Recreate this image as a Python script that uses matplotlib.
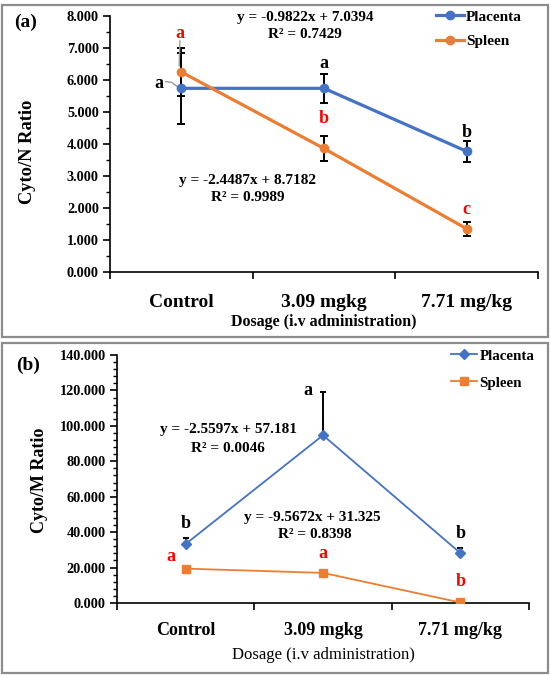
import matplotlib
matplotlib.use("Agg")
import matplotlib.pyplot as plt
from matplotlib.patches import Rectangle
from matplotlib.ticker import MultipleLocator, FixedLocator, NullFormatter

plt.rcParams["font.family"] = ["Liberation Serif", "DejaVu Serif"]
plt.rcParams["font.weight"] = "bold"

BLUE, ORANGE, RED = "#4472C4", "#ED7D31", "#FF0000"

doses = ["Control", "3.09 mgkg", "7.71 mg/kg"]
xpos = [1, 2, 3]

# panel (a) Cyto/N ratio
placenta_n = [5.74, 5.74, 3.77]
placenta_n_err = [1.10, 0.45, 0.33]
spleen_n = [6.25, 3.86, 1.35]
spleen_n_err = [0.74, 0.40, 0.22]

# panel (b) Cyto/M ratio (only upper error shown)
placenta_m = [33.3, 94.7, 28.2]
placenta_m_err = [3.5, 24.5, 3.0]
spleen_m = [19.4, 17.0, 0.3]

# significance letters: (x, y, letter, colour)
letters_a = [(0.99, 7.45, "a", RED), (0.84, 5.9, "a", "black"),
             (2.0, 6.53, "a", "black"), (2.0, 4.81, "b", RED),
             (3.0, 4.35, "b", "black"), (3.0, 1.94, "c", RED)]
letters_b = [(1.0, 44.6, "b", "black"), (0.89, 26.0, "a", RED),
             (1.89, 119.7, "a", "black"), (3.0, 39.5, "b", "black"),
             (2.0, 28.0, "a", RED), (3.0, 12.0, "b", RED)]

fig = plt.figure(figsize=(5.5, 6.78), dpi=100)

# grey frames round each panel
for y0, h in [(5, 332), (343, 330)]:
    fig.patches.append(Rectangle((2 / 550, 1 - (y0 + h) / 678), 546 / 550, h / 678,
                                 transform=fig.transFigure, fill=False,
                                 edgecolor="#8c8c8c", linewidth=1.6))


def style_axes(ax, ymax, major, minor, tick_size, ms):
    ax.set_xlim(0.5, 3.5)
    ax.set_ylim(0, ymax)
    for s in ["top", "right"]:
        ax.spines[s].set_visible(False)
    for s in ["left", "bottom"]:
        ax.spines[s].set_linewidth(1.2)
    ax.yaxis.set_major_locator(MultipleLocator(major))
    ax.yaxis.set_minor_locator(MultipleLocator(minor))
    ax.yaxis.set_major_formatter(lambda v, p: f"{v:.3f}")
    ax.tick_params(axis="y", which="major", length=5, width=1.2, labelsize=10.3, pad=3)
    ax.tick_params(axis="y", which="minor", length=3, width=1)
    ax.xaxis.set_major_locator(FixedLocator([0.5, 1.5, 2.5, 3.5]))
    ax.xaxis.set_major_formatter(NullFormatter())
    ax.xaxis.set_minor_locator(FixedLocator(xpos))
    ax.set_xticklabels(doses, minor=True)
    ax.tick_params(axis="x", which="major", length=5, width=1.2)
    ax.tick_params(axis="x", which="minor", length=0, labelsize=tick_size, pad=ms)


# ---- panel (a)
ax1 = fig.add_axes([110 / 550, 1 - 272 / 678, 428 / 550, 256 / 678])
style_axes(ax1, 8, 1, 0.5, 14, 16)
ax1.errorbar(xpos, placenta_n, yerr=placenta_n_err, fmt="none", ecolor="black",
             elinewidth=1.4, capsize=3, capthick=1.4, zorder=2)
ax1.errorbar(xpos, spleen_n, yerr=spleen_n_err, fmt="none", ecolor="black",
             elinewidth=1.4, capsize=3, capthick=1.4, zorder=2)
ax1.plot(xpos, placenta_n, color=BLUE, lw=2.3, marker="o", ms=6, label="Placenta", zorder=3)
ax1.plot(xpos, spleen_n, color=ORANGE, lw=2.3, marker="o", ms=6, label="Spleen", zorder=3)
for x, y, t, c in letters_a:
    ax1.text(x, y, t, color=c, fontsize=13, ha="center", va="center")
ax1.plot([0.89, 0.93, 0.97], [5.95, 5.93, 5.8], color="#999999", lw=1)
ax1.plot([0.99, 0.985], [7.22, 6.45], color="#999999", lw=1)
ax1.text(1.866, 7.94, "y = -0.9822x + 7.0394", fontsize=11, ha="center", va="center")
ax1.text(1.866, 7.41, "R² = 0.7429", fontsize=11, ha="center", va="center")
ax1.text(1.467, 2.87, "y = -2.4487x + 8.7182", fontsize=11, ha="center", va="center")
ax1.text(1.467, 2.34, "R² = 0.9989", fontsize=11, ha="center", va="center")
ax1.legend(loc="upper left", bbox_to_anchor=(436 / 550, 1 - 10 / 678),
           bbox_transform=fig.transFigure, frameon=False, fontsize=11,
           handlelength=1.8, handletextpad=0.15, labelspacing=0.7,
           borderpad=0, borderaxespad=0)
fig.text(14 / 550, 1 - 22 / 678, "(a)", fontsize=14, va="center")
fig.text(28 / 550, 1 - 152 / 678, "Cyto/N Ratio", fontsize=13.3, rotation=90,
         ha="center", va="center")
fig.text(324 / 550, 1 - 322 / 678, "Dosage (i.v administration)", fontsize=11.5,
         ha="center", va="center")

# ---- panel (b)
ax2 = fig.add_axes([117 / 550, 1 - 603 / 678, 412 / 550, 248 / 678])
style_axes(ax2, 140, 20, 4, 13, 14)
ax2.errorbar(xpos, placenta_m, yerr=[[0, 0, 0], placenta_m_err], fmt="none",
             ecolor="black", elinewidth=1.4, capsize=2.5, capthick=1.4, zorder=2)
ax2.plot(xpos, placenta_m, color=BLUE, lw=1.3, marker="D", ms=5, label="Placenta", zorder=3)
ax2.plot(xpos, spleen_m, color=ORANGE, lw=1.3, marker="s", ms=6, label="Spleen", zorder=3)
for x, y, t, c in letters_b:
    ax2.text(x, y, t, color=c, fontsize=13, ha="center", va="center")
ax2.text(1.31, 97.7, "y = -2.5597x + 57.181", fontsize=11, ha="center", va="center")
ax2.text(1.31, 87.5, "R² = 0.0046", fontsize=11, ha="center", va="center")
ax2.text(1.92, 48.0, "y = -9.5672x + 31.325", fontsize=11, ha="center", va="center")
ax2.text(1.94, 38.4, "R² = 0.8398", fontsize=11, ha="center", va="center")
ax2.legend(loc="upper left", bbox_to_anchor=(451 / 550, 1 - 349 / 678),
           bbox_transform=fig.transFigure, frameon=False, fontsize=10.8,
           handlelength=1.75, handletextpad=0.15, labelspacing=0.9,
           borderpad=0, borderaxespad=0)
fig.text(16 / 550, 1 - 365 / 678, "(b)", fontsize=14, va="center")
fig.text(40 / 550, 1 - 480 / 678, "Cyto/M Ratio", fontsize=13, rotation=90,
         ha="center", va="center")
fig.text(323 / 550, 1 - 655 / 678, "Dosage (i.v administration)", fontsize=12,
         fontweight="normal", ha="center", va="center")

fig.savefig("out.png", dpi=100)
